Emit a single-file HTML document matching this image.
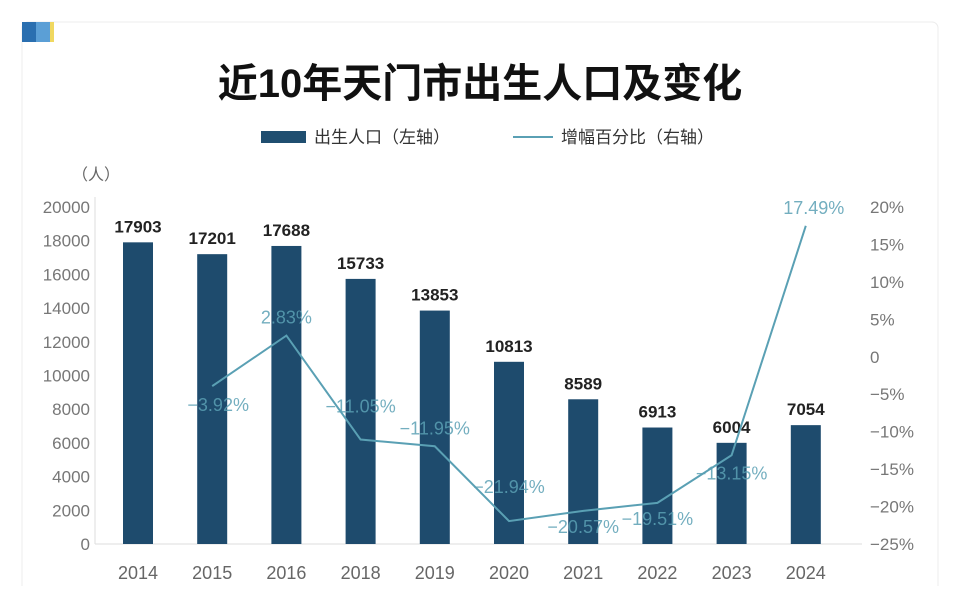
<!DOCTYPE html>
<html><head><meta charset="utf-8"><style>
body{margin:0;background:#fff;width:960px;height:586px;overflow:hidden;font-family:"Liberation Sans","Noto Sans CJK SC",sans-serif;}
</style></head><body>
<svg width="960" height="586">
<rect x="22" y="22" width="916" height="580" rx="6" fill="#fff" stroke="#ececec"/>
<rect x="22" y="22" width="14" height="20" fill="#2a6fb0"/>
<rect x="36" y="22" width="14" height="20" fill="#5b9fd6"/>
<rect x="50" y="22" width="4" height="20" fill="#f0d860"/>
<text x="480" y="97" text-anchor="middle" font-size="40" font-weight="bold" fill="#111" font-family="'Liberation Sans','Noto Sans CJK SC',sans-serif">近10年天门市出生人口及变化</text>
<g>
<rect x="261" y="131" width="45" height="12" fill="#1f4e70"/>
<text x="314" y="143" font-size="17" fill="#333">出生人口（左轴）</text>
<line x1="513" y1="137" x2="553" y2="137" stroke="#5aa0b4" stroke-width="2"/>
<text x="561" y="143" font-size="17" fill="#333">增幅百分比（右轴）</text>
</g>
<text x="72" y="180" font-size="16" fill="#666">（人）</text>
<g id="plot"></g>
</svg>
<script>
const years=["2014","2015","2016","2018","2019","2020","2021","2022","2023","2024"];
const births=[17903,17201,17688,15733,13853,10813,8589,6913,6004,7054];
const growthYears=["2015","2016","2018","2019","2020","2021","2022","2023","2024"];
const growth=[-3.92,2.83,-11.05,-11.95,-21.94,-20.57,-19.51,-13.15,17.49];
const leftTicks=[0,2000,4000,6000,8000,10000,12000,14000,16000,18000,20000];
const rightTicks=[-25,-20,-15,-10,-5,0,5,10,15,20];
const rightTickLabels=["−25%","−20%","−15%","−10%","−5%","0","5%","10%","15%","20%"];
const growthLabelOffsets=[[6,25],[0,-12],[0,-27],[0,-12],[0,-28],[0,22],[0,22],[0,24],[8,-12]];

const NS="http://www.w3.org/2000/svg";
const g=document.getElementById('plot');
const x0=138,step=74.2,base=544,yTop=207;
const xs=i=>x0+i*step;
const yL=v=>base-(v/20000)*(base-yTop);
const yR=v=>base-((v+25)/45)*(base-yTop);
function el(t,a){const e=document.createElementNS(NS,t);for(const k in a)e.setAttribute(k,a[k]);g.appendChild(e);return e;}
let ax=el('line',{x1:95,y1:yTop-10,x2:95,y2:base,stroke:'#ddd'});


let bx=el('line',{x1:95,y1:base,x2:862,y2:base,stroke:'#ddd'});


leftTicks.forEach(v=>{
 const t=el('text',{x:90,y:yL(v)+6,'text-anchor':'end','font-size':17,fill:'#777'});
 t.textContent=v;
 
 
});
rightTicks.forEach((v,i)=>{
 const t=el('text',{x:870,y:yR(v)+6,'font-size':17,fill:'#777'});
 t.textContent=rightTickLabels[i];
 
 
});
years.forEach((y,i)=>{
 const b=el('rect',{x:xs(i)-15,y:yL(births[i]),width:30,height:base-yL(births[i]),fill:'#1e4b6d'});
 
 
 const l=el('text',{x:xs(i),y:yL(births[i])-10,'text-anchor':'middle','font-size':17,'font-weight':'bold',fill:'#222'});
 l.textContent=births[i];
 
 
 const t=el('text',{x:xs(i),y:579,'text-anchor':'middle','font-size':18,fill:'#666'});
 t.textContent=y;
 
 
});
const pts=growthYears.map((y,i)=>[xs(years.indexOf(y)),yR(growth[i])]);
const line=el('polyline',{points:pts.map(p=>p.join(',')).join(' '),fill:'none',stroke:'#5aa0b4','stroke-width':2});


pts.forEach((p,i)=>{
 const t=el('text',{x:p[0]+growthLabelOffsets[i][0],y:p[1]+growthLabelOffsets[i][1],'text-anchor':'middle','font-size':18,fill:'#5aa0b4','fill-opacity':0.85});
 t.textContent=(growth[i]<0?'−'+Math.abs(growth[i]).toFixed(2):growth[i].toFixed(2))+'%';
 
 
});
</script>
</body></html>
